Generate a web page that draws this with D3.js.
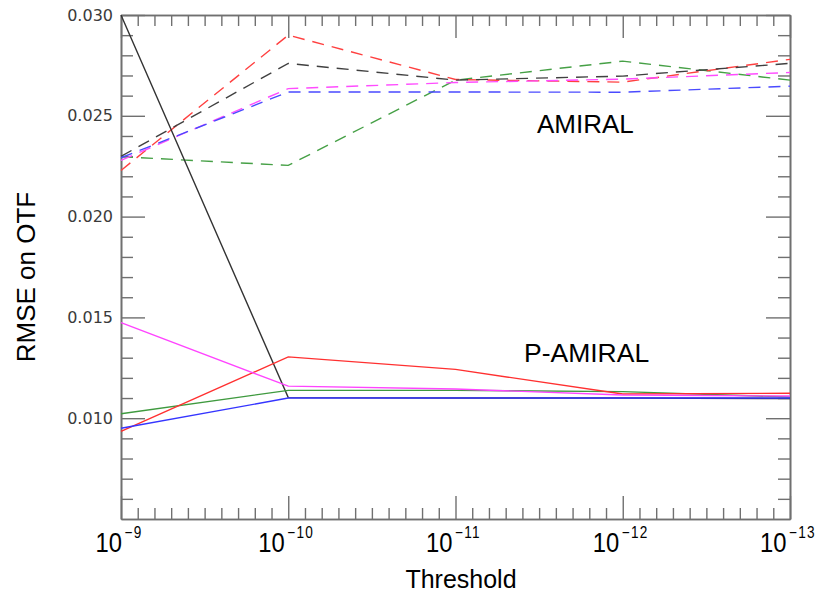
<!DOCTYPE html>
<html>
<head>
<meta charset="utf-8">
<script src="https://cdn.jsdelivr.net/npm/d3@7"></script>
<style>
  html, body { margin: 0; padding: 0; background: #fff; }
  svg { display: block; }
</style>
</head>
<body>
<div id="chart"></div>
<script>
// ---- data ----
const thresholdIndex = [0, 1, 2, 3, 4];
const thresholdExponents = ["-9", "-10", "-11", "-12", "-13"];
const yTickValues = [0.010, 0.015, 0.020, 0.025, 0.030];

// P-AMIRAL (solid)
const pBlack   = [0.03000, 0.01102, 0.01100, 0.01100, 0.01097];
const pGreen   = [0.01022, 0.01138, 0.01138, 0.01132, 0.01105];
const pRed     = [0.00935, 0.01304, 0.01242, 0.01120, 0.01124];
const pMagenta = [0.01474, 0.01159, 0.01145, 0.01115, 0.01110];
const pBlue    = [0.00950, 0.01100, 0.01100, 0.01100, 0.01100];

// AMIRAL (dashed)
const aGreen   = [0.02297, 0.02254, 0.02677, 0.02771, 0.02677];
const aRed     = [0.02229, 0.02900, 0.02680, 0.02667, 0.02780];
const aBlack   = [0.02299, 0.02760, 0.02677, 0.02697, 0.02760];
const aMagenta = [0.02279, 0.02635, 0.02665, 0.02682, 0.02715];
const aBlue    = [0.02292, 0.02618, 0.02618, 0.02617, 0.02647];

const W = 824, H = 597;
const svg = d3.select("#chart").append("svg").attr("width", W).attr("height", H);

const x = d3.scaleLinear().domain([0, 4]).range([121, 790]);
const y = d3.scaleLinear().domain([0.005, 0.030]).range([519, 15]);

const axisColor = "#707070";
const axisWidth = 1.6;

function styleAxis(sel) {
  sel.select(".domain").attr("stroke", axisColor).attr("stroke-width", axisWidth);
  sel.selectAll(".tick line").attr("stroke", axisColor).attr("stroke-width", 1.4);
}

const yMinor = d3.range(6, 30).filter(d => d % 5 !== 0).map(d => d / 1000);
const xMinor = d3.range(0, 41).filter(d => d % 10 !== 0).map(d => d / 10);

// left axis
svg.append("g").attr("transform", "translate(121,0)")
  .call(d3.axisLeft(y).tickValues(yMinor).tickSize(-12).tickSizeOuter(0).tickFormat(""))
  .call(styleAxis);
const leftMajor = svg.append("g").attr("transform", "translate(121,0)")
  .call(d3.axisLeft(y).tickValues(yTickValues).tickSize(-24).tickSizeOuter(0).tickPadding(8).tickFormat(d3.format(".3f")))
  .call(styleAxis);
leftMajor.selectAll("text")
  .attr("font-family", "DejaVu Sans, Verdana, sans-serif")
  .attr("font-size", 16)
  .attr("fill", "#3a3a3a");

// right axis
svg.append("g").attr("transform", "translate(790,0)")
  .call(d3.axisRight(y).tickValues(yMinor).tickSize(-12).tickSizeOuter(0).tickFormat(""))
  .call(styleAxis);
svg.append("g").attr("transform", "translate(790,0)")
  .call(d3.axisRight(y).tickValues(yTickValues).tickSize(-24).tickSizeOuter(0).tickFormat(""))
  .call(styleAxis);

// bottom axis
svg.append("g").attr("transform", "translate(0,519)")
  .call(d3.axisBottom(x).tickValues(xMinor).tickSize(-11).tickSizeOuter(0).tickFormat(""))
  .call(styleAxis);
svg.append("g").attr("transform", "translate(0,519)")
  .call(d3.axisBottom(x).tickValues(thresholdIndex).tickSize(-23).tickSizeOuter(0).tickFormat(""))
  .call(styleAxis);

// top axis
svg.append("g").attr("transform", "translate(0,15)")
  .call(d3.axisTop(x).tickValues(xMinor).tickSize(-11).tickSizeOuter(0).tickFormat(""))
  .call(styleAxis);
svg.append("g").attr("transform", "translate(0,15)")
  .call(d3.axisTop(x).tickValues(thresholdIndex).tickSize(-23).tickSizeOuter(0).tickFormat(""))
  .call(styleAxis);

// x tick labels 10^-n
const xl = svg.append("g").selectAll("text").data(thresholdIndex).join("text")
  .attr("transform", d => `translate(${x(d) - 2},552) scale(0.85,1)`)
  .attr("text-anchor", "middle")
  .attr("font-family", "Liberation Sans, Arial, sans-serif")
  .attr("fill", "#000");
xl.append("tspan").attr("font-size", 28).text("10");
xl.append("tspan").attr("font-size", 16).attr("dx", 3).attr("dy", -14)
  .attr("letter-spacing", 1.5)
  .text((d, i) => thresholdExponents[i].replace("-", "\u2212"));

// axis titles
svg.append("text")
  .attr("x", 461).attr("y", 588)
  .attr("text-anchor", "middle")
  .attr("font-family", "Liberation Sans, Arial, sans-serif")
  .attr("font-size", 25)
  .attr("fill", "#000")
  .text("Threshold");

svg.append("text")
  .attr("transform", "translate(35,277) rotate(-90)")
  .attr("text-anchor", "middle")
  .attr("font-family", "Liberation Sans, Arial, sans-serif")
  .attr("font-size", 26)
  .attr("fill", "#000")
  .text("RMSE on OTF");

// series
const line = d3.line().x((d, i) => x(thresholdIndex[i])).y(d => y(d));

const dashed = [
  { v: aGreen, c: "#46a046" },
  { v: aRed, c: "#ff4040" },
  { v: aBlack, c: "#404040" },
  { v: aMagenta, c: "#ff4cff" },
  { v: aBlue, c: "#4a4aff" }
];
const solid = [
  { v: pBlack, c: "#333333" },
  { v: pGreen, c: "#3f9a3f" },
  { v: pRed, c: "#ff3030" },
  { v: pMagenta, c: "#ff44ff" },
  { v: pBlue, c: "#3535ff" }
];

svg.append("g").selectAll("path").data(dashed).join("path")
  .attr("d", d => line(d.v))
  .attr("fill", "none")
  .attr("stroke", d => d.c)
  .attr("stroke-width", 1.4)
  .attr("stroke-dasharray", "12,8");

svg.append("g").selectAll("path").data(solid).join("path")
  .attr("d", d => line(d.v))
  .attr("fill", "none")
  .attr("stroke", d => d.c)
  .attr("stroke-width", 1.4);

// annotations
svg.append("text")
  .attr("x", 537).attr("y", 133)
  .attr("font-family", "Liberation Sans, Arial, sans-serif")
  .attr("font-size", 26)
  .attr("fill", "#000")
  .text("AMIRAL");

svg.append("text")
  .attr("x", 524).attr("y", 362)
  .attr("font-family", "Liberation Sans, Arial, sans-serif")
  .attr("font-size", 26.5)
  .attr("fill", "#000")
  .text("P-AMIRAL");
</script>
</body>
</html>
